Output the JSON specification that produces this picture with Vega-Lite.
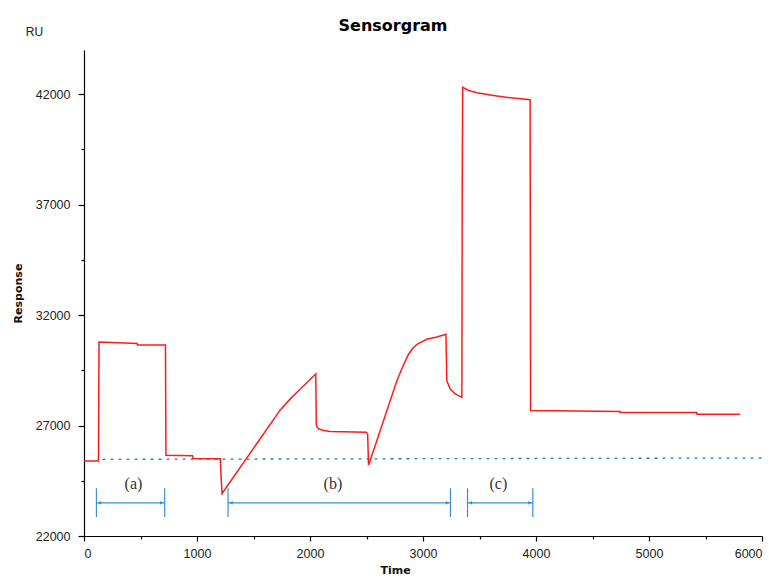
{
  "$schema": "https://vega.github.io/schema/vega-lite/v6.json",
  "width": 678,
  "height": 486,
  "autosize": {"type": "none"},
  "padding": {"left": 84, "top": 50, "right": 7, "bottom": 43},
  "background": "white",
  "title": {"text": "Sensorgram", "font": "DejaVu Sans", "fontSize": 16, "fontWeight": "bold", "color": "#000", "anchor": "middle", "baseline": "alphabetic", "offset": 0, "dy": 21, "dx": -30},
  "config": {
    "view": {"stroke": null},
    "axis": {"grid": false, "domainColor": "#000", "domainWidth": 1.2, "tickColor": "#000", "tickWidth": 1.2, "labelFont": "Liberation Sans", "labelFontSize": 12.5, "labelColor": "#222", "titleFont": "DejaVu Sans", "titleFontSize": 11, "titleFontWeight": "bold", "titleColor": "#111"}
  },
  "datasets": {
    "resp": [
      {"t": 0, "ru": 25392}, {"t": 128, "ru": 25392}, {"t": 133, "ru": 30785}, {"t": 470, "ru": 30710}, {"t": 472, "ru": 30650}, {"t": 721, "ru": 30650}, {"t": 725, "ru": 25650}, {"t": 960, "ru": 25630}, {"t": 965, "ru": 25510}, {"t": 1207, "ru": 25500}, {"t": 1213, "ru": 24670}, {"t": 1222, "ru": 23924}, {"t": 1472, "ru": 25762}, {"t": 1737, "ru": 27708}, {"t": 1830, "ru": 28230}, {"t": 1914, "ru": 28654}, {"t": 1990, "ru": 29030}, {"t": 2051, "ru": 29330}, {"t": 2056, "ru": 27000}, {"t": 2076, "ru": 26852}, {"t": 2120, "ru": 26775}, {"t": 2180, "ru": 26730}, {"t": 2498, "ru": 26700}, {"t": 2510, "ru": 26626}, {"t": 2518, "ru": 25199}, {"t": 2592, "ru": 26325}, {"t": 2681, "ru": 27676}, {"t": 2769, "ru": 29028}, {"t": 2825, "ru": 29720}, {"t": 2872, "ru": 30230}, {"t": 2910, "ru": 30500}, {"t": 2946, "ru": 30680}, {"t": 3034, "ru": 30906}, {"t": 3123, "ru": 31010}, {"t": 3203, "ru": 31131}, {"t": 3211, "ru": 29028}, {"t": 3241, "ru": 28654}, {"t": 3285, "ru": 28429}, {"t": 3344, "ru": 28275}, {"t": 3347, "ru": 37677}, {"t": 3351, "ru": 42317}, {"t": 3402, "ru": 42169}, {"t": 3477, "ru": 42061}, {"t": 3623, "ru": 41944}, {"t": 3800, "ru": 41822}, {"t": 3948, "ru": 41746}, {"t": 3952, "ru": 27676}, {"t": 4744, "ru": 27631}, {"t": 4745, "ru": 27586}, {"t": 5422, "ru": 27586}, {"t": 5425, "ru": 27510}, {"t": 5805, "ru": 27510}
    ],
    "base": [{"t": 164, "ru": 25470}, {"t": 6000, "ru": 25530}],
    "ann": [
      {"lab": "(a)", "x1": 110, "x2": 714, "xl": 438},
      {"lab": "(b)", "x1": 1275, "x2": 3243, "xl": 2203},
      {"lab": "(c)", "x1": 3394, "x2": 3972, "xl": 3667}
    ],
    "unit": [{"t": -438, "ru": 44795, "txt": "RU"}]
  },
  "resolve": {"axis": {"x": "independent", "y": "independent"}},
  "layer": [
    {
      "data": {"name": "base"},
      "mark": {"type": "line", "color": "#2479c0", "strokeWidth": 1.3, "strokeDash": [3, 5]},
      "encoding": {
        "x": {"field": "t", "type": "quantitative", "scale": {"domain": [0, 6000], "nice": false, "zero": false},
              "axis": {"orient": "bottom", "values": [500, 1500, 2500, 3500, 4500, 5500], "tickSize": 3, "labels": false, "domain": false, "title": null}},
        "y": {"field": "ru", "type": "quantitative", "scale": {"domain": [22000, 44000], "nice": false, "zero": false},
              "axis": {"orient": "left", "values": [24500, 29500, 34500, 39500], "tickSize": 3, "labels": false, "domain": false, "title": null}}
      }
    },
    {
      "data": {"name": "resp"},
      "mark": {"type": "line", "color": "#ff1a1a", "strokeWidth": 1.5},
      "encoding": {
        "x": {"field": "t", "type": "quantitative", "scale": {"domain": [0, 6000], "nice": false, "zero": false},
              "axis": {"orient": "bottom", "values": [0, 1000, 2000, 3000, 4000, 5000, 6000], "format": "d", "tickSize": 5, "labelPadding": 6, "title": "Time", "titlePadding": 5, "titleX": 311}},
        "y": {"field": "ru", "type": "quantitative", "scale": {"domain": [22000, 44000], "nice": false, "zero": false},
              "axis": {"orient": "left", "values": [22000, 27000, 32000, 37000, 42000], "format": "d", "tickSize": 6, "labelPadding": 8, "title": "Response", "titlePadding": 12, "labelFlush": false}}
      }
    },
    {
      "data": {"name": "ann"},
      "mark": {"type": "rule", "color": "#3a8fd0", "strokeWidth": 1.2},
      "encoding": {
        "x": {"field": "x1", "type": "quantitative", "scale": {"domain": [0, 6000], "nice": false, "zero": false}, "axis": null},
        "y": {"datum": 22856, "type": "quantitative", "scale": {"domain": [22000, 44000], "nice": false, "zero": false}, "axis": null},
        "y2": {"datum": 24162}
      }
    },
    {
      "data": {"name": "ann"},
      "mark": {"type": "rule", "color": "#3a8fd0", "strokeWidth": 1.2},
      "encoding": {
        "x": {"field": "x2", "type": "quantitative", "scale": {"domain": [0, 6000], "nice": false, "zero": false}, "axis": null},
        "y": {"datum": 22856, "type": "quantitative", "scale": {"domain": [22000, 44000], "nice": false, "zero": false}, "axis": null},
        "y2": {"datum": 24162}
      }
    },
    {
      "data": {"name": "ann"},
      "mark": {"type": "rule", "color": "#3a8fd0", "strokeWidth": 1.1},
      "encoding": {
        "x": {"field": "x1", "type": "quantitative", "scale": {"domain": [0, 6000], "nice": false, "zero": false}, "axis": null},
        "x2": {"field": "x2"},
        "y": {"datum": 23500, "type": "quantitative", "scale": {"domain": [22000, 44000], "nice": false, "zero": false}, "axis": null}
      }
    },
    {
      "data": {"name": "ann"},
      "mark": {"type": "point", "shape": "triangle-left", "filled": true, "color": "#3a8fd0", "size": 14, "xOffset": 3, "opacity": 1},
      "encoding": {
        "x": {"field": "x1", "type": "quantitative", "scale": {"domain": [0, 6000], "nice": false, "zero": false}, "axis": null},
        "y": {"datum": 23500, "type": "quantitative", "scale": {"domain": [22000, 44000], "nice": false, "zero": false}, "axis": null}
      }
    },
    {
      "data": {"name": "ann"},
      "mark": {"type": "point", "shape": "triangle-right", "filled": true, "color": "#3a8fd0", "size": 14, "xOffset": -3, "opacity": 1},
      "encoding": {
        "x": {"field": "x2", "type": "quantitative", "scale": {"domain": [0, 6000], "nice": false, "zero": false}, "axis": null},
        "y": {"datum": 23500, "type": "quantitative", "scale": {"domain": [22000, 44000], "nice": false, "zero": false}, "axis": null}
      }
    },
    {
      "data": {"name": "ann"},
      "mark": {"type": "text", "font": "Liberation Serif", "fontSize": 16, "color": "#333", "baseline": "middle", "align": "center"},
      "encoding": {
        "x": {"field": "xl", "type": "quantitative", "scale": {"domain": [0, 6000], "nice": false, "zero": false}, "axis": null},
        "y": {"datum": 24343, "type": "quantitative", "scale": {"domain": [22000, 44000], "nice": false, "zero": false}, "axis": null},
        "text": {"field": "lab"}
      }
    },
    {
      "data": {"name": "unit"},
      "mark": {"type": "text", "font": "Liberation Sans", "fontSize": 12, "color": "#222", "baseline": "middle", "align": "center"},
      "encoding": {
        "x": {"field": "t", "type": "quantitative", "scale": {"domain": [0, 6000], "nice": false, "zero": false}, "axis": null},
        "y": {"field": "ru", "type": "quantitative", "scale": {"domain": [22000, 44000], "nice": false, "zero": false}, "axis": null},
        "text": {"field": "txt"}
      }
    }
  ]
}
